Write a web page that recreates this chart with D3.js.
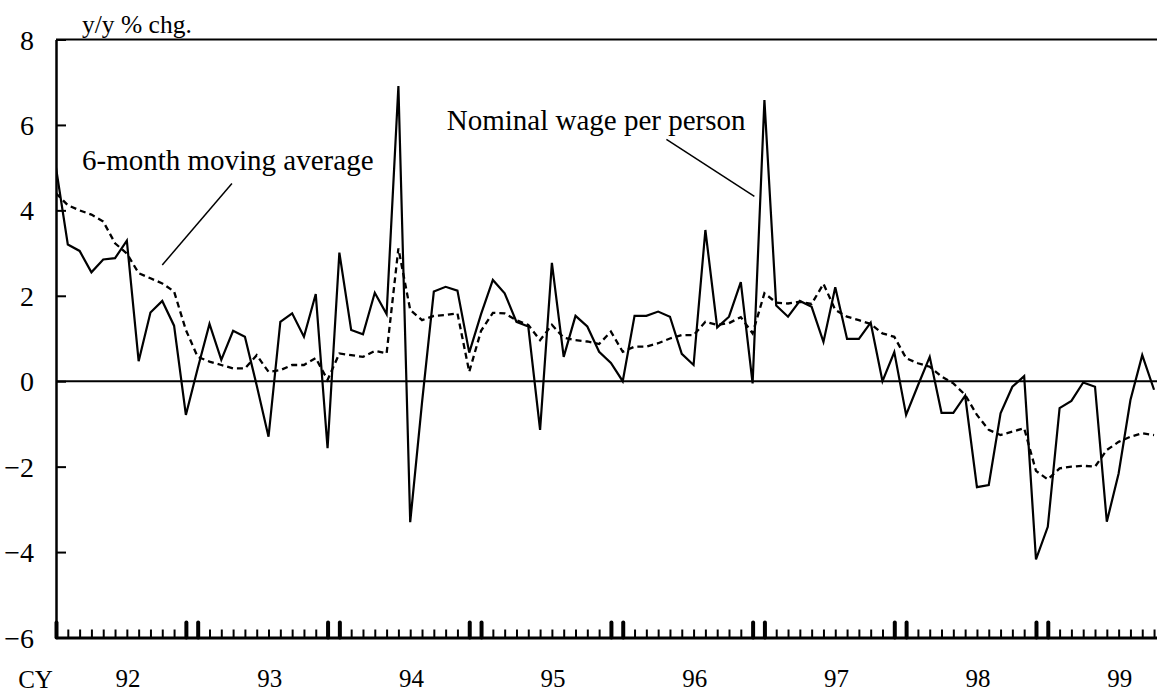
<!DOCTYPE html>
<html>
<head>
<meta charset="utf-8">
<script src="https://cdn.jsdelivr.net/npm/d3@7"></script>
<style>
  body { margin: 0; background: #fff; }
  text { font-family: "Liberation Serif", "Times New Roman", serif; fill: #000; }
</style>
</head>
<body>
<div id="chart"></div>
<script>
// month index 0 = Jan 1992
const years = ["92", "93", "94", "95", "96", "97", "98", "99"];
const yTicks = [8, 6, 4, 2, 0, -2, -4, -6];

// nominal wage per person, y/y % chg.
const wage = [
  5.0, 3.2, 3.05, 2.55, 2.85, 2.88, 3.29, 0.47, 1.61, 1.88, 1.3, -0.79,
  0.3, 1.34, 0.5, 1.18, 1.04, -0.1, -1.3, 1.39, 1.59, 1.04, 2.04, -1.57,
  3.01, 1.2, 1.1, 2.07, 1.57, 6.91, -3.3, -0.5, 2.1, 2.21, 2.12, 0.67,
  1.57, 2.37, 2.06, 1.39, 1.28, -1.14, 2.77, 0.57, 1.53, 1.28, 0.69, 0.43,
  0.0, 1.53, 1.53, 1.63, 1.51, 0.64, 0.38, 3.54, 1.26, 1.51, 2.32, -0.05,
  6.58, 1.77, 1.51, 1.88, 1.74, 0.92, 2.2, 0.99, 0.99, 1.37, 0.0, 0.68,
  -0.79, -0.1, 0.57, -0.74, -0.74, -0.34, -2.48, -2.43, -0.75, -0.13, 0.12, -4.17,
  -3.41, -0.63, -0.46, -0.03, -0.13, -3.29, -2.16, -0.44, 0.61, -0.2
];

// 6-month moving average
const movingAvg = [
  4.4, 4.12, 4.0, 3.9, 3.74, 3.23, 2.99, 2.53, 2.41, 2.29, 2.1, 1.2,
  0.57, 0.46, 0.38, 0.3, 0.3, 0.61, 0.22, 0.26, 0.38, 0.38, 0.54, 0.03,
  0.65, 0.61, 0.57, 0.71, 0.65, 3.11, 1.67, 1.43, 1.53, 1.55, 1.59, 0.22,
  1.18, 1.6, 1.59, 1.43, 1.32, 0.96, 1.32, 1.02, 0.96, 0.93, 0.87, 1.16,
  0.69, 0.81, 0.81, 0.89, 1.0, 1.08, 1.08, 1.39, 1.32, 1.36, 1.5, 1.12,
  2.06, 1.84, 1.82, 1.86, 1.81, 2.28, 1.67, 1.51, 1.43, 1.34, 1.12, 1.04,
  0.54, 0.42, 0.34, 0.11, -0.05, -0.32, -0.79, -1.14, -1.26, -1.18, -1.1, -2.1,
  -2.3, -2.04, -2.0, -1.98, -2.0, -1.61, -1.42, -1.3, -1.22, -1.26
];

// annotations in data coordinates (month index, value)
const labels = [
  { text: "6-month moving average", at: [2.2, 4.95], from: [14.9, 4.63], to: [9.0, 2.72] },
  { text: "Nominal wage per person", at: [33.1, 5.88], from: [51.7, 5.66], to: [59.15, 4.33] }
];

const W = 1157, H = 693;
const margin = { top: 39.5, right: 0, bottom: 55.5, left: 56 };
const width = W - margin.left - margin.right;
const height = H - margin.top - margin.bottom;

const svg = d3.select("#chart").append("svg")
  .attr("width", W)
  .attr("height", H);

const g = svg.append("g")
  .attr("transform", `translate(${margin.left},${margin.top})`);

const x = d3.scaleLinear().domain([0, 93.25]).range([0, width]);
const y = d3.scaleLinear().domain([-6, 8]).range([height, 0]);

const months = d3.range(wage.length);

// top frame line
g.append("line")
  .attr("x1", 0).attr("x2", width)
  .attr("y1", y(8)).attr("y2", y(8))
  .attr("stroke", "#000").attr("stroke-width", 2);

// zero line
g.append("line")
  .attr("x1", 0).attr("x2", width)
  .attr("y1", y(0)).attr("y2", y(0))
  .attr("stroke", "#000").attr("stroke-width", 2);

// y axis, ticks pointing inward
const yAxis = g.append("g")
  .call(d3.axisLeft(y).tickValues(yTicks).tickSizeInner(-10).tickSizeOuter(0).tickPadding(22).tickFormat(d3.format("d")));
yAxis.select(".domain").attr("stroke-width", 2.5);
yAxis.selectAll(".tick line").attr("stroke-width", 2);
yAxis.selectAll("text")
  .style("font-family", "'Liberation Serif', 'Times New Roman', serif")
  .style("font-size", "28px")
  .attr("dy", "0.34em");

// x axis, one tick per month, Dec/Jan ticks heavy
const isYearEdge = d => d % 12 === 11 || d % 12 === 0;
const xAxis = g.append("g")
  .attr("transform", `translate(0,${height})`)
  .call(d3.axisBottom(x).tickValues(months).tickSizeInner(-8).tickSizeOuter(0).tickFormat(""));
xAxis.select(".domain").attr("stroke-width", 3);
xAxis.selectAll(".tick line")
  .attr("stroke-width", d => isYearEdge(d) ? 4 : 2)
  .attr("stroke-linecap", d => isYearEdge(d) ? "round" : "butt")
  .attr("y2", d => isYearEdge(d) ? -15 : -8);

// year labels under the July of each year
g.selectAll(".year")
  .data(years)
  .join("text")
  .attr("class", "year")
  .attr("x", (d, i) => x(i * 12 + 6.1))
  .attr("y", height + 49)
  .attr("text-anchor", "middle")
  .style("font-size", "25px")
  .text(d => d);

svg.append("text")
  .attr("x", 35.5)
  .attr("y", margin.top + height + 50.5)
  .attr("text-anchor", "middle")
  .style("font-size", "25px")
  .text("CY");

svg.append("text")
  .attr("x", 82)
  .attr("y", 33)
  .style("font-size", "25.5px")
  .text("y/y % chg.");

// series
const line = d3.line()
  .x((d, i) => x(i))
  .y(d => y(d));

svg.append("clipPath").attr("id", "plot-clip")
  .append("rect")
  .attr("x", 0).attr("y", -5)
  .attr("width", width).attr("height", height + 10);

g.append("path")
  .datum(movingAvg)
  .attr("clip-path", "url(#plot-clip)")
  .attr("fill", "none")
  .attr("stroke", "#000")
  .attr("stroke-width", 2.3)
  .attr("stroke-dasharray", "6,4")
  .attr("d", line);

g.append("path")
  .datum(wage)
  .attr("clip-path", "url(#plot-clip)")
  .attr("fill", "none")
  .attr("stroke", "#000")
  .attr("stroke-width", 2.2)
  .attr("stroke-linejoin", "miter")
  .attr("d", line);

// annotations
labels.forEach(a => {
  g.append("text")
    .attr("x", x(a.at[0]))
    .attr("y", y(a.at[1]))
    .style("font-size", "29px")
    .text(a.text);
  g.append("line")
    .attr("x1", x(a.from[0])).attr("y1", y(a.from[1]))
    .attr("x2", x(a.to[0])).attr("y2", y(a.to[1]))
    .attr("stroke", "#000")
    .attr("stroke-width", 1.5);
});
</script>
</body>
</html>
